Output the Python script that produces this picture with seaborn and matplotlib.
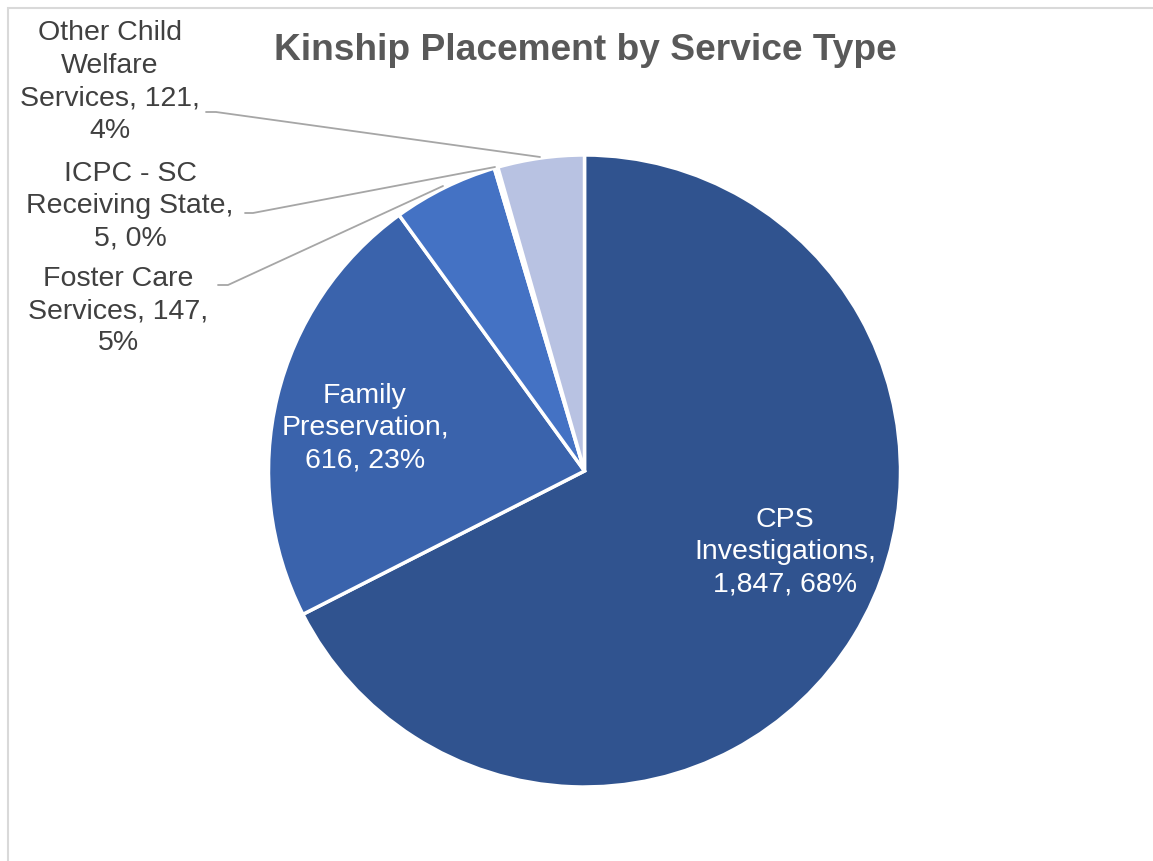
import matplotlib
matplotlib.use("Agg")
import matplotlib.pyplot as plt
import seaborn as sns
from matplotlib.patches import Rectangle

sns.set_theme(style="white")
plt.rcParams['font.family'] = ['Liberation Sans', 'DejaVu Sans']

categories = ["CPS Investigations", "Family Preservation", "Foster Care Services",
              "ICPC - SC Receiving State", "Other Child Welfare Services"]
values = [1847, 616, 147, 5, 121]
percents = ["68%", "23%", "5%", "0%", "4%"]
colors = ["#30538F", "#3A63AC", "#4472C4", "#D0D8EE", "#B8C2E2"]
title = "Kinship Placement by Service Type"

W, H = 1153, 861
fig = plt.figure(figsize=(W / 100, H / 100), dpi=100)
ax = fig.add_axes([0, 0, 1, 1])

cx, cy, r = 584.5, H - 471, 316
wedges, _ = ax.pie(values, colors=colors, startangle=90, counterclock=False,
                   center=(cx, cy), radius=r, frame=True,
                   wedgeprops=dict(edgecolor="white", linewidth=2.5))
ax.set_xlim(0, W)
ax.set_ylim(0, H)
ax.set_aspect("equal")
ax.axis("off")

# frame border (left and top visible)
fig.patches.append(Rectangle((8 / W, -0.1), 1.2, (H - 8) / H + 0.1, transform=fig.transFigure,
                             fill=False, edgecolor="#D9D9D9", linewidth=1.5))

fs = 20.5
ls = 1.32
txt_col = "#404040"
def fmt(v):
    return f"{v:,}"

# inside labels
ax.text(785, H - 552, f"CPS\nInvestigations,\n{fmt(values[0])}, {percents[0]}",
        ha="center", va="center", color="white", fontsize=fs, linespacing=ls)
ax.text(365, H - 428, f"Family\nPreservation,\n{fmt(values[1])}, {percents[1]}",
        ha="center", va="center", color="white", fontsize=fs, linespacing=ls)

# outside labels
ax.text(118, H - 311, f"Foster Care\nServices, {values[2]},\n{percents[2]}",
        ha="center", va="center", color=txt_col, fontsize=fs, linespacing=ls)
ax.text(130, H - 206, f"ICPC - SC\nReceiving State,\n{values[3]}, {percents[3]}",
        ha="center", va="center", color=txt_col, fontsize=fs, linespacing=ls)
ax.text(110, H - 82, f"Other Child\nWelfare\nServices, {values[4]},\n{percents[4]}",
        ha="center", va="center", color=txt_col, fontsize=fs, linespacing=ls)

lc = "#A6A6A6"
for pts in [[(206, 112), (216, 112), (540, 157)],
            [(245, 213), (253, 213), (495, 167)],
            [(218, 285), (228, 285), (443, 186)]]:
    xs = [p[0] for p in pts]
    ys = [H - p[1] for p in pts]
    ax.plot(xs, ys, color=lc, linewidth=1.3)

ax.text(585, H - 51, title, ha="center", va="center", fontsize=26.7,
        fontweight="bold", color="#595959")

fig.savefig("out.png", dpi=100)
